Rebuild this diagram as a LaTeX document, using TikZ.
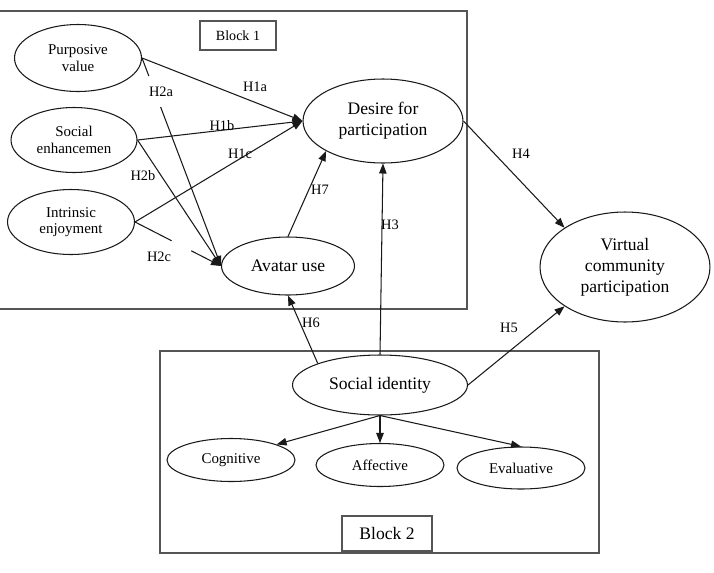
\documentclass[tikz,border=0pt]{standalone}
\usepackage{fontspec}
\setmainfont{Liberation Serif}
\usetikzlibrary{positioning,shapes.geometric,arrows.meta,calc}
\definecolor{LineGray}{RGB}{85,85,85}
\definecolor{Ink}{RGB}{25,25,25}

\begin{document}
\begin{tikzpicture}[x=0.02cm,y=-0.02cm,
    bigoval/.style={ellipse,draw=Ink,line width=0.6pt,inner sep=0pt,align=center,font=\fontsize{10}{12}\selectfont},
    smalloval/.style={ellipse,draw=Ink,line width=0.6pt,inner sep=0pt,align=center,font=\fontsize{8.5}{9.3}\selectfont},
    blockline/.style={draw=LineGray,line width=0.9pt},
    blocklabel/.style={rectangle,draw=LineGray,line width=0.7pt,inner sep=0pt},
    hyp/.style={font=\fontsize{8.2}{9}\selectfont,inner sep=1pt},
    arrow/.style={-{Triangle[length=2mm,width=1.5mm]},line width=0.6pt,draw=Ink},
    link/.style={line width=0.6pt,draw=Ink}
]
\useasboundingbox (0,0) rectangle (714,572);

% Block 1
\draw[blockline] (0,11) -- (467,11) -- (467,309) -- (0,309);
\node[blocklabel,minimum width=1.52cm,minimum height=0.58cm,font=\fontsize{8}{9}\selectfont] (blk1) at (238,35.5) {Block 1};

\node[smalloval,minimum width=2.54cm,minimum height=1.34cm] (pur-val) at (78,58) {Purposive\\value};
\node[smalloval,minimum width=2.52cm,minimum height=1.30cm] (soc-enh) at (74,140) {Social\\enhancemen};
\node[smalloval,minimum width=2.54cm,minimum height=1.30cm] (int-enj) at (71,222) {Intrinsic\\enjoyment};
\node[bigoval,minimum width=2.66cm,minimum height=1.16cm] (avatar) at (288,266) {Avatar use};
\node[bigoval,minimum width=3.2cm,minimum height=1.68cm] (desire) at (383,121) {Desire for\\participation};

% outcome
\node[bigoval,minimum width=3.4cm,minimum height=2.2cm] (vc-part) at (625,267) {Virtual\\community\\participation};

% Block 2
\draw[blockline] (160,351) rectangle (599,553);
\node[blocklabel,minimum width=1.8cm,minimum height=0.7cm,font=\fontsize{10}{12}\selectfont] (blk2) at (387,533.5) {Block 2};

\node[bigoval,minimum width=3.5cm,minimum height=1.2cm] (soc-id) at (380,385) {Social identity};
\node[smalloval,minimum width=2.56cm,minimum height=0.86cm] (cog) at (231,460) {Cognitive};
\node[smalloval,minimum width=2.56cm,minimum height=0.86cm] (aff) at (380,465) {Affective};
\node[smalloval,minimum width=2.56cm,minimum height=0.84cm] (eval) at (521,468) {Evaluative};

% H1 paths
\draw[arrow] (pur-val.east) -- (desire.west);
\draw[arrow] (soc-enh.east) -- (desire.west);
\draw[arrow] (int-enj.east) -- (desire.west);

% H2 paths (broken where the labels sit)
\draw[link] (pur-val.east) -- ($(pur-val.east)!0.087!(avatar.west)$);
\draw[arrow] ($(pur-val.east)!0.236!(avatar.west)$) -- (avatar.west);
\draw[arrow] (soc-enh.east) -- (avatar.west);
\draw[link] (int-enj.east) -- ($(int-enj.east)!0.425!(avatar.west)$);
\draw[arrow] ($(int-enj.east)!0.655!(avatar.west)$) -- (avatar.west);

\draw[arrow] (avatar.north) -- (desire.south west);
\draw[arrow] (soc-id.north) -- (desire.south);
\draw[arrow] (soc-id.north west) -- (avatar.south);
\draw[arrow] (desire.east) -- (vc-part.north west);
\draw[arrow] (soc-id.east) -- (vc-part.south west);

% dimensions of social identity
\draw[arrow] (soc-id.south) -- (cog.north east);
\draw[arrow] (soc-id.south) -- (aff.north);
\draw[arrow] (soc-id.south) -- (eval.north);

% hypothesis labels
\node[hyp] (h1a) at (255,87) {H1a};
\node[hyp] (h1b) at (222,126) {H1b};
\node[hyp] (h1c) at (240,154) {H1c};
\node[hyp] (h2a) at (161,92) {H2a};
\node[hyp] (h2b) at (143,176) {H2b};
\node[hyp] (h2c) at (159,257) {H2c};
\node[hyp] (h7) at (320,190) {H7};
\node[hyp] (h3) at (390,225) {H3};
\node[hyp] (h6) at (311,323) {H6};
\node[hyp] (h4) at (521,154) {H4};
\node[hyp] (h5) at (509,328) {H5};

\end{tikzpicture}
\end{document}
